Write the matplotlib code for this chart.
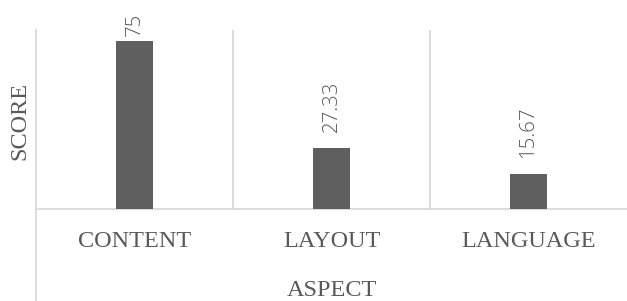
import matplotlib
matplotlib.use("Agg")
import matplotlib.pyplot as plt

categories = ["CONTENT", "LAYOUT", "LANGUAGE"]
scores = [75, 27.33, 15.67]
value_labels = ["75", "27.33", "15.67"]

W, H = 627, 301
DPI = 100
fig = plt.figure(figsize=(W / DPI, H / DPI), dpi=DPI)
left, right, bottom, top = 36 / W, 1.0, (H - 209) / H, (H - 30) / H
ax = fig.add_axes([left, bottom, right - left, top - bottom])

grid_c = "#d9d9d9"
text_c = "#595959"
bar_c = "#5f5f5f"
serif = "Liberation Serif"

x = list(range(len(categories)))
ax.bar(x, scores, width=0.183, color=bar_c, zorder=3)
ax.set_xlim(-0.5, len(categories) - 0.5)
ax.set_ylim(0, 80)

for s in ["top", "right", "left", "bottom"]:
    ax.spines[s].set_visible(False)
ax.axhline(0, color=grid_c, lw=1.3, zorder=2, clip_on=False)
for b in [0.5, 1.5]:
    ax.axvline(b, color=grid_c, lw=1.3, zorder=1)
ext = -bottom / (top - bottom)
ax.axvline(-0.5, ymin=ext, ymax=1, color=grid_c, lw=1.3, clip_on=False, zorder=1)

ax.set_yticks([])
ax.set_xticks(x)
ax.set_xticklabels(categories, family=serif, fontsize=17.5, color=text_c)
ax.tick_params(axis="x", length=0, pad=16)

gap_pt = 11.5
anns = []
for xi, v, t in zip(x, scores, value_labels):
    a = ax.annotate(t, (xi, v), xytext=(0, gap_pt), textcoords="offset points",
                    rotation=90, ha="center", va="bottom",
                    fontsize=14.7, color=text_c, family="Open Sans", fontweight="light")
    anns.append(a)

# keep labels inside the chart area (top limit ~13 px from the top)
fig.canvas.draw()
r = fig.canvas.get_renderer()
limit = H - 13
for a in anns:
    bb = a.get_window_extent(r)
    if bb.y1 > limit:
        excess = bb.y1 - limit
        a.set_position((0, gap_pt - excess * 72 / DPI))

fig.text(332 / W, 1 - 290 / H, "ASPECT", ha="center", va="center",
         family=serif, fontsize=17.5, color=text_c)
fig.text(20 / W, 1 - 121 / H, "SCORE", ha="center", va="center", rotation=90,
         family=serif, fontsize=17.5, color=text_c)

fig.savefig("out.png", dpi=DPI)
